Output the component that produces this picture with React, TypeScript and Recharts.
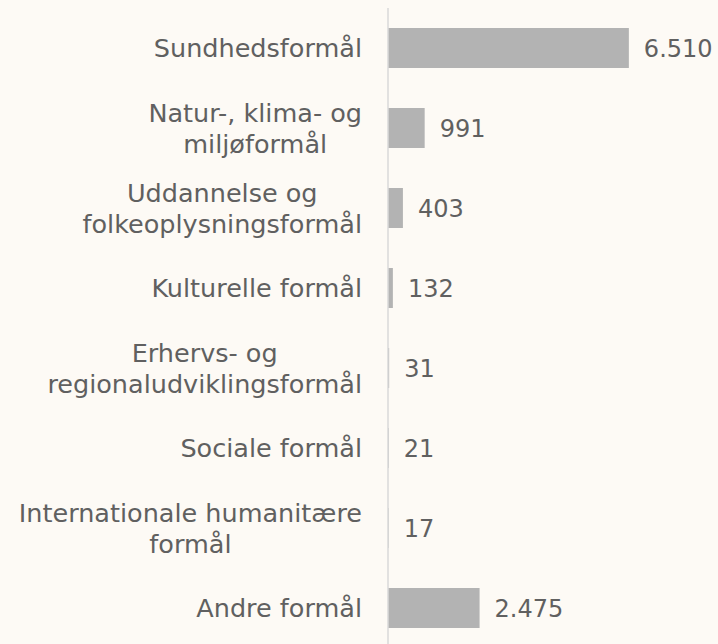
import { BarChart, Bar, XAxis, YAxis, LabelList } from "recharts";

const categoryLines = [
  ["Sundhedsformål"],
  ["Natur-, klima- og", "miljøformål"],
  ["Uddannelse og", "folkeoplysningsformål"],
  ["Kulturelle formål"],
  ["Erhervs- og", "regionaludviklingsformål"],
  ["Sociale formål"],
  ["Internationale humanitære", "formål"],
  ["Andre formål"],
];

const values = [6510, 991, 403, 132, 31, 21, 17, 2475];

const data = categoryLines.map((lines, i) => ({
  name: lines.join(" "),
  value: values[i],
}));

const FONT = "'DejaVu Sans', sans-serif";
const FONT_SIZE = 25.5;
const TEXT = "#606060";

let ctx: CanvasRenderingContext2D | null = null;
const measure = (s: string) => {
  if (!ctx) {
    ctx = document.createElement("canvas").getContext("2d");
  }
  if (!ctx) return s.length * 15;
  ctx.font = `${FONT_SIZE}px ${FONT}`;
  return ctx.measureText(s).width;
};

const fmt = (v: number) => String(v).replace(/\B(?=(\d{3})+(?!\d))/g, ".");

const CategoryTick = (props: any) => {
  const { x, y, payload } = props;
  const lines = categoryLines.find((l) => l.join(" ") === payload.value) || [payload.value];
  const blockW = Math.max(...lines.map(measure));
  const cx = x - blockW / 2;
  const lineH = 31;
  const top = y - ((lines.length - 1) * lineH) / 2;
  return (
    <text fill={TEXT} fontSize={FONT_SIZE} fontFamily={FONT} textAnchor="middle">
      {lines.map((l, i) => (
        <tspan key={i} x={cx} y={top + i * lineH} dy="0.36em">
          {l}
        </tspan>
      ))}
    </text>
  );
};

const App = () => {
  return (
    <div
      style={{
        position: "fixed",
        left: 0,
        top: 0,
        width: 718,
        height: 644,
        background: "#fdfaf5",
        overflow: "hidden",
      }}
    >
      <BarChart
        width={718}
        height={648}
        data={data}
        layout="vertical"
        margin={{ top: 8, right: 34, bottom: 0, left: 0 }}
        barSize={40}
      >
        <XAxis type="number" domain={[0, 8000]} hide />
        <YAxis
          type="category"
          dataKey="name"
          width={388}
          axisLine={{ stroke: "#d9d9d9", strokeWidth: 1.5 }}
          tickLine={false}
          tickSize={0}
          tickMargin={26}
          tick={<CategoryTick />}
          interval={0}
        />
        <Bar dataKey="value" fill="#b3b3b3" isAnimationActive={false}>
          <LabelList
            dataKey="value"
            position="right"
            offset={15}
            formatter={(v: any) => fmt(Number(v))}
            fill={TEXT}
            fontSize={24}
            fontFamily={FONT}
          />
        </Bar>
      </BarChart>
    </div>
  );
};

export default App;
